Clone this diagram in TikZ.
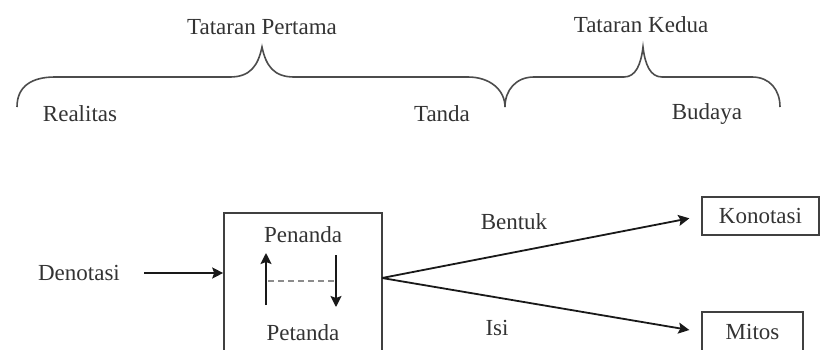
\documentclass[tikz,border=0pt]{standalone}
\usepackage{fontspec}
\setmainfont{Liberation Serif}
\usetikzlibrary{arrows.meta}
\begin{document}
\begin{tikzpicture}[x=0.5pt,y=-0.5pt,
  txt/.style={font=\fontsize{11.5}{13}\selectfont,text=black!80,inner sep=0pt},
  brace/.style={draw=black!70,line width=0.8pt},
  arr/.style={draw=black!90,line width=0.9pt,-{Stealth[length=5.5pt,width=5.5pt,inset=1pt]}},
  boxnode/.style={draw=black!75,line width=0.8pt,inner sep=0pt}]
\useasboundingbox (0,0) rectangle (821,349);
\clip (0,0) rectangle (821,349);

% top level: the two braces and their labels
\node[txt] (t1) at (262,27) {Tataran Pertama};
\node[txt] (t2) at (641,25) {Tataran Kedua};
\draw[brace] (17,107) .. controls (17,86) and (32,77) .. (55,77) -- (230,77)
  .. controls (250,77) and (258,66) .. (262,47)
  .. controls (266,66) and (274,77) .. (294,77) -- (468,77)
  .. controls (490,77) and (505,90) .. (505,107);
\draw[brace] (505,107) .. controls (505,90) and (516,77) .. (534,77) -- (624,77)
  .. controls (636,77) and (641,64) .. (643,47)
  .. controls (645,64) and (650,77) .. (662,77) -- (752,77)
  .. controls (770,77) and (780,90) .. (780,107);
\node[txt] (real) at (80,114) {Realitas};
\node[txt] (tanda) at (442,114) {Tanda};
\node[txt] (bud) at (707,114) {Budaya};

% lower level: sign box and its two readings
\node[txt] (den) at (79,273) {Denotasi};
\node[boxnode,minimum width=79pt,minimum height=76pt] (box) at (303,289) {};
\node[txt] (pen) at (303,235) {Penanda};
\node[txt] (pet) at (303,333) {Petanda};
\draw[arr] ([xshift=12pt]den.east) -- (den -| box.west);

\coordinate (upA) at (266,305);
\coordinate (upB) at (266,253);
\coordinate (dnA) at (336,255);
\coordinate (dnB) at (336,307);
\draw[arr] (upA) -- (upB);
\draw[arr] (dnA) -- (dnB);
\draw[black!45,line width=0.8pt,dash pattern=on 3pt off 2pt] (268,281) -- (334,281);

\node[boxnode,minimum width=58.5pt,minimum height=19pt,txt,draw=black!75] (kon) at (760.5,216) {Konotasi};
\node[boxnode,minimum width=50.5pt,minimum height=20pt,txt,draw=black!75] (mit) at (752.5,332) {Mitos};

\coordinate (fork) at (382,278);
\draw[arr,shorten >=6pt] (fork) -- (kon.west);
\draw[arr,shorten >=6pt] (fork) -- (mit.west);
\node[txt] (bentuk) at (514,222) {Bentuk};
\node[txt] (isi) at (497,328) {Isi};
\end{tikzpicture}
\end{document}
